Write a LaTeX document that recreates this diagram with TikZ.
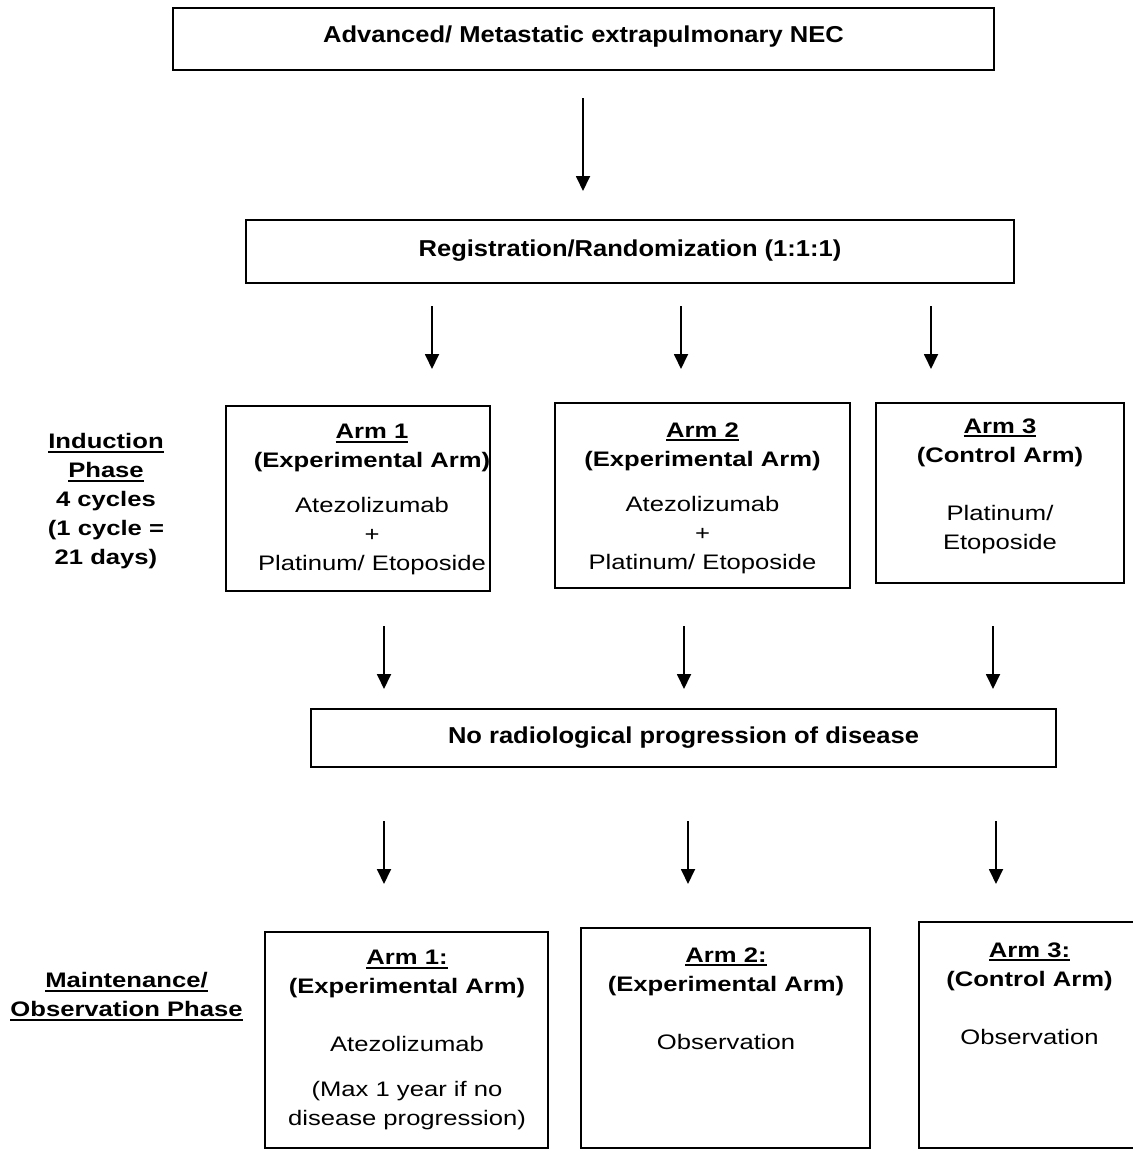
\documentclass[tikz,border=0pt]{standalone}
\usepackage{fontspec}
\setmainfont{Liberation Sans}[FakeStretch=1.22]
\newfontfamily\headfont{Liberation Sans}[FakeStretch=1.11]
\usetikzlibrary{arrows.meta}
\newcommand{\ulbox}[1]{\setbox0=\hbox{#1}\rlap{\rule[-2pt]{\wd0}{0.9pt}}\box0}

\begin{document}
\begin{tikzpicture}[x=0.5pt,y=-0.5pt,
  box/.style={draw,line width=1pt,inner sep=0pt},
  hdbox/.style={box,font=\headfont\fontsize{11.5}{14.5}\selectfont\bfseries},
  txt/.style={inner sep=0pt,align=center,anchor=north,font=\fontsize{10.5}{14.5}\selectfont},
  lbl/.style={txt,font=\fontsize{10.5}{14.5}\selectfont\bfseries},
  arr/.style={-{Triangle[width=7pt,length=7.5pt]},line width=0.9pt}]
\useasboundingbox (0,0) rectangle (1133,1151);

% single line boxes
\node[hdbox,minimum width=410.5pt,minimum height=31pt,text depth=4.5pt] (nec) at (583.5,39) {Advanced/ Metastatic extrapulmonary NEC};
\node[hdbox,minimum width=384pt,minimum height=31.5pt,text depth=3.5pt] (reg) at (630,251.5) {Registration/Randomization (1:1:1)};
\node[hdbox,minimum width=372.5pt,minimum height=29pt] (norad) at (683.5,738) {No radiological progression of disease};

% induction arms
\node[box,minimum width=132pt,minimum height=92.5pt] (ind1) at (358,498.5) {};
\node[box,minimum width=147.5pt,minimum height=92.5pt] (ind2) at (702.5,495.5) {};
\node[box,minimum width=124pt,minimum height=90pt] (ind3) at (1000,493) {};
\node[txt] (ind1t) at (372,424) {\textbf{\ulbox{Arm 1}}\\\textbf{(Experimental Arm)}\\[8pt]Atezolizumab\\+\\Platinum/ Etoposide};
\node[txt] (ind2t) at (702.5,422) {\textbf{\ulbox{Arm 2}}\\\textbf{(Experimental Arm)}\\[8pt]Atezolizumab\\+\\Platinum/ Etoposide};
\node[txt] (ind3t) at (1000,418) {\textbf{\ulbox{Arm 3}}\\\textbf{(Control Arm)}\\[14.5pt]Platinum/\\Etoposide};

% maintenance arms
\node[box,minimum width=141.5pt,minimum height=108pt] (mnt1) at (406.5,1040) {};
\node[box,minimum width=144.5pt,minimum height=110pt] (mnt2) at (725.5,1038) {};
\node[box,minimum width=110.5pt,minimum height=113pt] (mnt3) at (1029.5,1035) {};
\node[txt] (mnt1t) at (407,950) {\textbf{\ulbox{Arm 1:}}\\\textbf{(Experimental Arm)}\\[14.5pt]Atezolizumab\\[8pt](Max 1 year if no\\disease progression)};
\node[txt] (mnt2t) at (726,947) {\textbf{\ulbox{Arm 2:}}\\\textbf{(Experimental Arm)}\\[14.5pt]Observation};
\node[txt] (mnt3t) at (1029.5,942) {\textbf{\ulbox{Arm 3:}}\\\textbf{(Control Arm)}\\[14.5pt]Observation};

% phase labels
\node[lbl] (indph) at (106,433) {\ulbox{Induction}\\\ulbox{Phase}\\4 cycles\\(1 cycle =\\21 days)};
\node[lbl] (mntph) at (126.5,972) {\ulbox{Maintenance/}\\\ulbox{Observation Phase}};

% arrows
\draw[arr,shorten <=13.5pt,shorten >=14pt] (nec.south -| 583,0) -- (reg.north -| 583,0);
\foreach \b/\x/\s in {ind1/432/18,ind2/681/16.5,ind3/931/16.5}
  \draw[arr,shorten <=11pt,shorten >=\s pt] (reg.south -| \x,0) -- (\b.north -| \x,0);
\foreach \b/\x/\s in {ind1/384/17,ind2/684/18.5,ind3/993/21}
  \draw[arr,shorten <=\s pt,shorten >=9.5pt] (\b.south -| \x,0) -- (norad.north -| \x,0);
\foreach \b/\x/\s in {mnt1/384/23.5,mnt2/688/21.5,mnt3/996/18.5}
  \draw[arr,shorten <=26.5pt,shorten >=\s pt] (norad.south -| \x,0) -- (\b.north -| \x,0);
\end{tikzpicture}
\end{document}
